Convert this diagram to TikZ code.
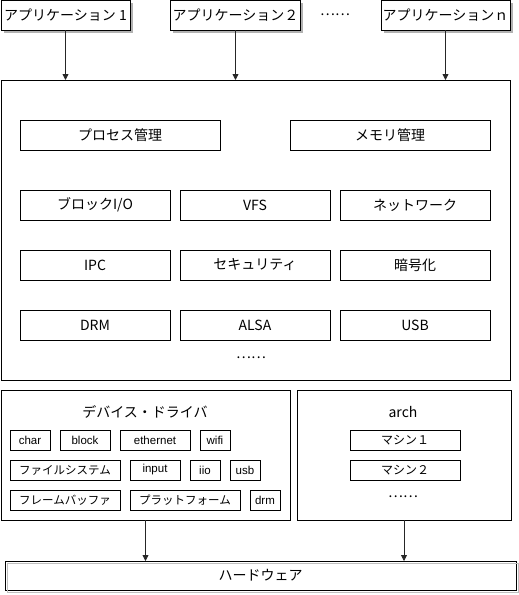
\documentclass[tikz,border=0pt]{standalone}
\usepackage{fontspec}
\setmainfont{Noto Sans CJK JP}
\newfontfamily\arialfont{Liberation Sans}
\usetikzlibrary{positioning,shadows,arrows.meta}

\tikzset{
    box/.style={draw=black, line width=0.8pt, fill=white, inner sep=0pt, outer sep=0pt, align=center},
    appbox/.style={box, minimum width=129pt, minimum height=30pt, font=\fontsize{14}{16}\selectfont,
        drop shadow={shadow xshift=2.5pt, shadow yshift=-2.5pt, opacity=1, fill=black!30}},
    kbox/.style={box, minimum height=30pt, font=\fontsize{14}{16}\selectfont},
    dbox/.style={box, minimum height=20pt, font=\fontsize{11.5}{13}\selectfont},
    frame/.style={box},
    label/.style={inner sep=0pt, font=\fontsize{14}{16}\selectfont},
    flow/.style={draw=black!85, line width=0.8pt, -{Triangle[length=6pt, width=6pt]}}
}

\begin{document}
\begin{tikzpicture}[x=1pt, y=-1pt]
    \useasboundingbox (0,0) rectangle (519,595);

    % applications
    \node [appbox] (app1) at (65.5,15) {アプリケーション 1};
    \node [appbox, minimum width=130pt] (app2) at (235.5,15) {アプリケーション２};
    \node [appbox] (appn) at (445.5,15) {アプリケーションｎ};
    \node [label] (appdots) at (335,15) {……};

    % kernel
    \node [frame, minimum width=509pt, minimum height=300pt] (kernel) at (255.5,230) {};
    \node [kbox, minimum width=200pt] (proc) at (120,135) {プロセス管理};
    \node [kbox, minimum width=200pt] (mem) at (390,135) {メモリ管理};
    \node [kbox, minimum width=150pt, below=40pt of proc.south west, anchor=north west] (blkio) {ブロックI/O};
    \node [kbox, minimum width=150pt, right=10pt of blkio] (vfs) {VFS};
    \node [kbox, minimum width=150pt, right=10pt of vfs] (net) {ネットワーク};
    \node [kbox, minimum width=150pt, below=30pt of blkio] (ipc) {IPC};
    \node [kbox, minimum width=150pt, right=10pt of ipc] (sec) {セキュリティ};
    \node [kbox, minimum width=150pt, right=10pt of sec] (crypto) {暗号化};
    \node [kbox, minimum width=150pt, below=30pt of ipc] (drmk) {DRM};
    \node [kbox, minimum width=150pt, right=10pt of drmk] (alsa) {ALSA};
    \node [kbox, minimum width=150pt, right=10pt of alsa] (usbk) {USB};
    \node [label] (kdots) at (251,358) {……};

    % device drivers
    \node [frame, minimum width=289pt, minimum height=130pt] (drv) at (145.5,455) {};
    \node [label] (drvtitle) at (145,412) {デバイス・ドライバ};
    \node [dbox, minimum width=40pt, anchor=north west] (char) at (10,430) {\arialfont char};
    \node [dbox, minimum width=50pt, right=10pt of char] (block) {\arialfont block};
    \node [dbox, minimum width=70pt, right=10pt of block] (ether) {\arialfont ethernet};
    \node [dbox, minimum width=30pt, right=10pt of ether] (wifi) {\arialfont wifi};
    \node [dbox, minimum width=110pt, below=10pt of char.south west, anchor=north west] (fs) {ファイルシステム};
    \node [dbox, minimum width=50pt, right=10pt of fs] (input) {\arialfont input};
    \node [dbox, minimum width=30pt, right=10pt of input] (iio) {\arialfont iio};
    \node [dbox, minimum width=30pt, right=10pt of iio] (usb) {\arialfont usb};
    \node [dbox, minimum width=110pt, below=10pt of fs] (fb) {フレームバッファ};
    \node [dbox, minimum width=110pt, right=10pt of fb] (plat) {プラットフォーム};
    \node [dbox, minimum width=30pt, right=10pt of plat] (drm) {\arialfont drm};

    % arch
    \node [frame, minimum width=214pt, minimum height=130pt] (arch) at (404,455) {};
    \node [label] (archtitle) at (403,412) {arch};
    \node [dbox, minimum width=110pt, font=\fontsize{12}{14}\selectfont] (mach1) at (405,440) {マシン１};
    \node [dbox, minimum width=110pt, font=\fontsize{12}{14}\selectfont, below=10pt of mach1] (mach2) {マシン２};
    \node [label] (archdots) at (403,497) {……};

    % hardware
    \node [kbox, minimum width=511pt, minimum height=29pt] (hw) at (260.5,575.5) {ハードウェア};
    \draw [black!25, line width=0.8pt] ([shift={(2.5pt,-2.5pt)}]hw.north west) rectangle ([shift={(2.5pt,-2.5pt)}]hw.south east);

    % connectors
    \draw [flow] (app1) -- (app1 |- kernel.north);
    \draw [flow] (app2) -- (app2 |- kernel.north);
    \draw [flow] (appn) -- (appn |- kernel.north);
    \draw [flow] (drv) -- (drv |- hw.north);
    \draw [flow] (arch) -- (arch |- hw.north);
\end{tikzpicture}
\end{document}
